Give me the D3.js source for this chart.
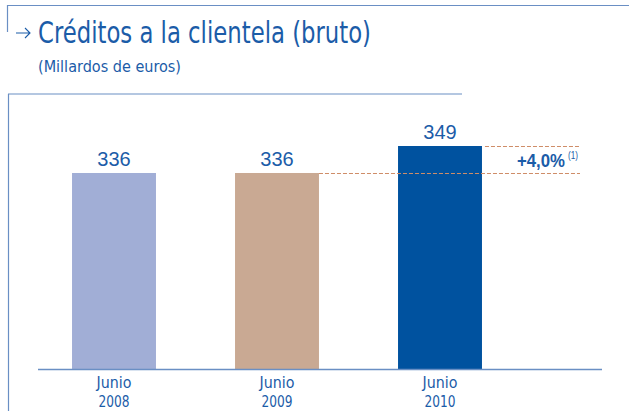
<!DOCTYPE html>
<html>
<head>
<meta charset="utf-8">
<script src="https://cdn.jsdelivr.net/npm/d3@7"></script>
<style>
  body { margin: 0; background: #fff; }
  svg { display: block; }
</style>
</head>
<body>
<svg id="chart" width="629" height="411"></svg>
<script>
// chart data
const periods = ["Junio", "Junio", "Junio"];
const years = ["2008", "2009", "2010"];
const values = [336, 336, 349];
const barColors = ["#a1aed6", "#c9a993", "#00529f"];
const growthLabel = "+4,0%";
const growthNote = "(1)";

const blue = "#1b5ca8";
const frame = "#6a8fc4";
const condensed = "'Liberation Sans Narrow', 'DejaVu Sans Condensed', 'Roboto Condensed', sans-serif";

let svg = d3.select("#chart");

// outer frame lines
svg.append("line").attr("x1", 7).attr("x2", 629).attr("y1", 5.5).attr("y2", 5.5)
   .attr("stroke", frame).attr("stroke-width", 1.2);
svg.append("line").attr("x1", 7.5).attr("x2", 7.5).attr("y1", 5).attr("y2", 32)
   .attr("stroke", frame).attr("stroke-width", 1.2);
svg.append("line").attr("x1", 8).attr("x2", 462).attr("y1", 94).attr("y2", 94)
   .attr("stroke", frame).attr("stroke-width", 1.2);
svg.append("line").attr("x1", 8.5).attr("x2", 8.5).attr("y1", 94).attr("y2", 411)
   .attr("stroke", frame).attr("stroke-width", 1.2);

// title with arrow
svg.append("path")
   .attr("d", "M16,33 L30,33 M25,28 L30,33 L25,38")
   .attr("fill", "none").attr("stroke", blue).attr("stroke-width", 1.1);
svg.append("text").attr("x", 38).attr("y", 43)
   .attr("font-family", condensed).attr("font-size", 31).attr("fill", blue)
   .attr("textLength", 333).attr("lengthAdjust", "spacingAndGlyphs")
   .text("Créditos a la clientela (bruto)");
svg.append("text").attr("x", 38).attr("y", 72)
   .attr("font-family", condensed).attr("font-size", 16).attr("fill", blue)
   .attr("textLength", 143).attr("lengthAdjust", "spacingAndGlyphs")
   .text("(Millardos de euros)");

// scales
let x = d3.scaleBand()
          .domain(years)
          .range([32.5, 521.5])
          .paddingInner(0.485)
          .paddingOuter(0.2425);
let y = d3.scaleLinear()
          .domain([241.6, 349])
          .range([369, 146]);

// bars
svg.selectAll("rect.bar")
   .data(values)
   .enter()
   .append("rect")
   .attr("class", "bar")
   .attr("x", (d, i) => x(years[i]))
   .attr("width", x.bandwidth())
   .attr("y", d => y(d))
   .attr("height", d => y.range()[0] - y(d))
   .attr("fill", (d, i) => barColors[i]);

// value labels
svg.selectAll("text.val")
   .data(values)
   .enter()
   .append("text")
   .attr("class", "val")
   .attr("x", (d, i) => x(years[i]) + x.bandwidth() / 2)
   .attr("y", d => y(d) - 7)
   .attr("text-anchor", "middle")
   .attr("font-family", "'Liberation Sans', Arial, sans-serif")
   .attr("font-size", 20)
   .attr("fill", blue)
   .text(d => d);

// baseline
svg.append("line").attr("x1", 38).attr("x2", 602)
   .attr("y1", y.range()[0] + 0.5).attr("y2", y.range()[0] + 0.5)
   .attr("stroke", frame).attr("stroke-width", 1.3);

// category labels (condensed look)
let cat = svg.selectAll("g.cat")
   .data(years)
   .enter()
   .append("g")
   .attr("class", "cat")
   .attr("transform", d => `translate(${x(d) + x.bandwidth() / 2},0)`);
cat.append("text").attr("y", 388).attr("text-anchor", "middle")
   .attr("font-family", condensed).attr("font-size", 16.5).attr("fill", blue)
   .attr("textLength", 35).attr("lengthAdjust", "spacingAndGlyphs")
   .text((d, i) => periods[i]);
cat.append("text").attr("y", 406.5).attr("text-anchor", "middle")
   .attr("font-family", condensed).attr("font-size", 16.5).attr("fill", blue)
   .attr("textLength", 31).attr("lengthAdjust", "spacingAndGlyphs")
   .text(d => d);

// growth dashed lines
let dashColor = "#cf8d68";
svg.append("line")
   .attr("x1", x(years[2]) + x.bandwidth() + 3).attr("x2", 580)
   .attr("y1", y(values[2]) + 0.5).attr("y2", y(values[2]) + 0.5)
   .attr("stroke", dashColor).attr("stroke-width", 1.1).attr("stroke-dasharray", "4,2");
svg.append("line")
   .attr("x1", x(years[1]) + x.bandwidth()).attr("x2", 580)
   .attr("y1", y(values[1]) + 0.5).attr("y2", y(values[1]) + 0.5)
   .attr("stroke", dashColor).attr("stroke-width", 1.1).attr("stroke-dasharray", "4,2");

// growth label
svg.append("text").attr("x", 565).attr("y", 167).attr("text-anchor", "end")
   .attr("font-family", "'Liberation Sans', Arial, sans-serif")
   .attr("font-size", 18).attr("font-weight", "bold").attr("fill", blue)
   .attr("textLength", 48).attr("lengthAdjust", "spacingAndGlyphs")
   .text(growthLabel);
svg.append("text").attr("x", 568).attr("y", 159)
   .attr("font-family", "'Liberation Sans', Arial, sans-serif")
   .attr("font-size", 10).attr("fill", blue)
   .attr("textLength", 10).attr("lengthAdjust", "spacingAndGlyphs")
   .text(growthNote);
</script>
</body>
</html>
